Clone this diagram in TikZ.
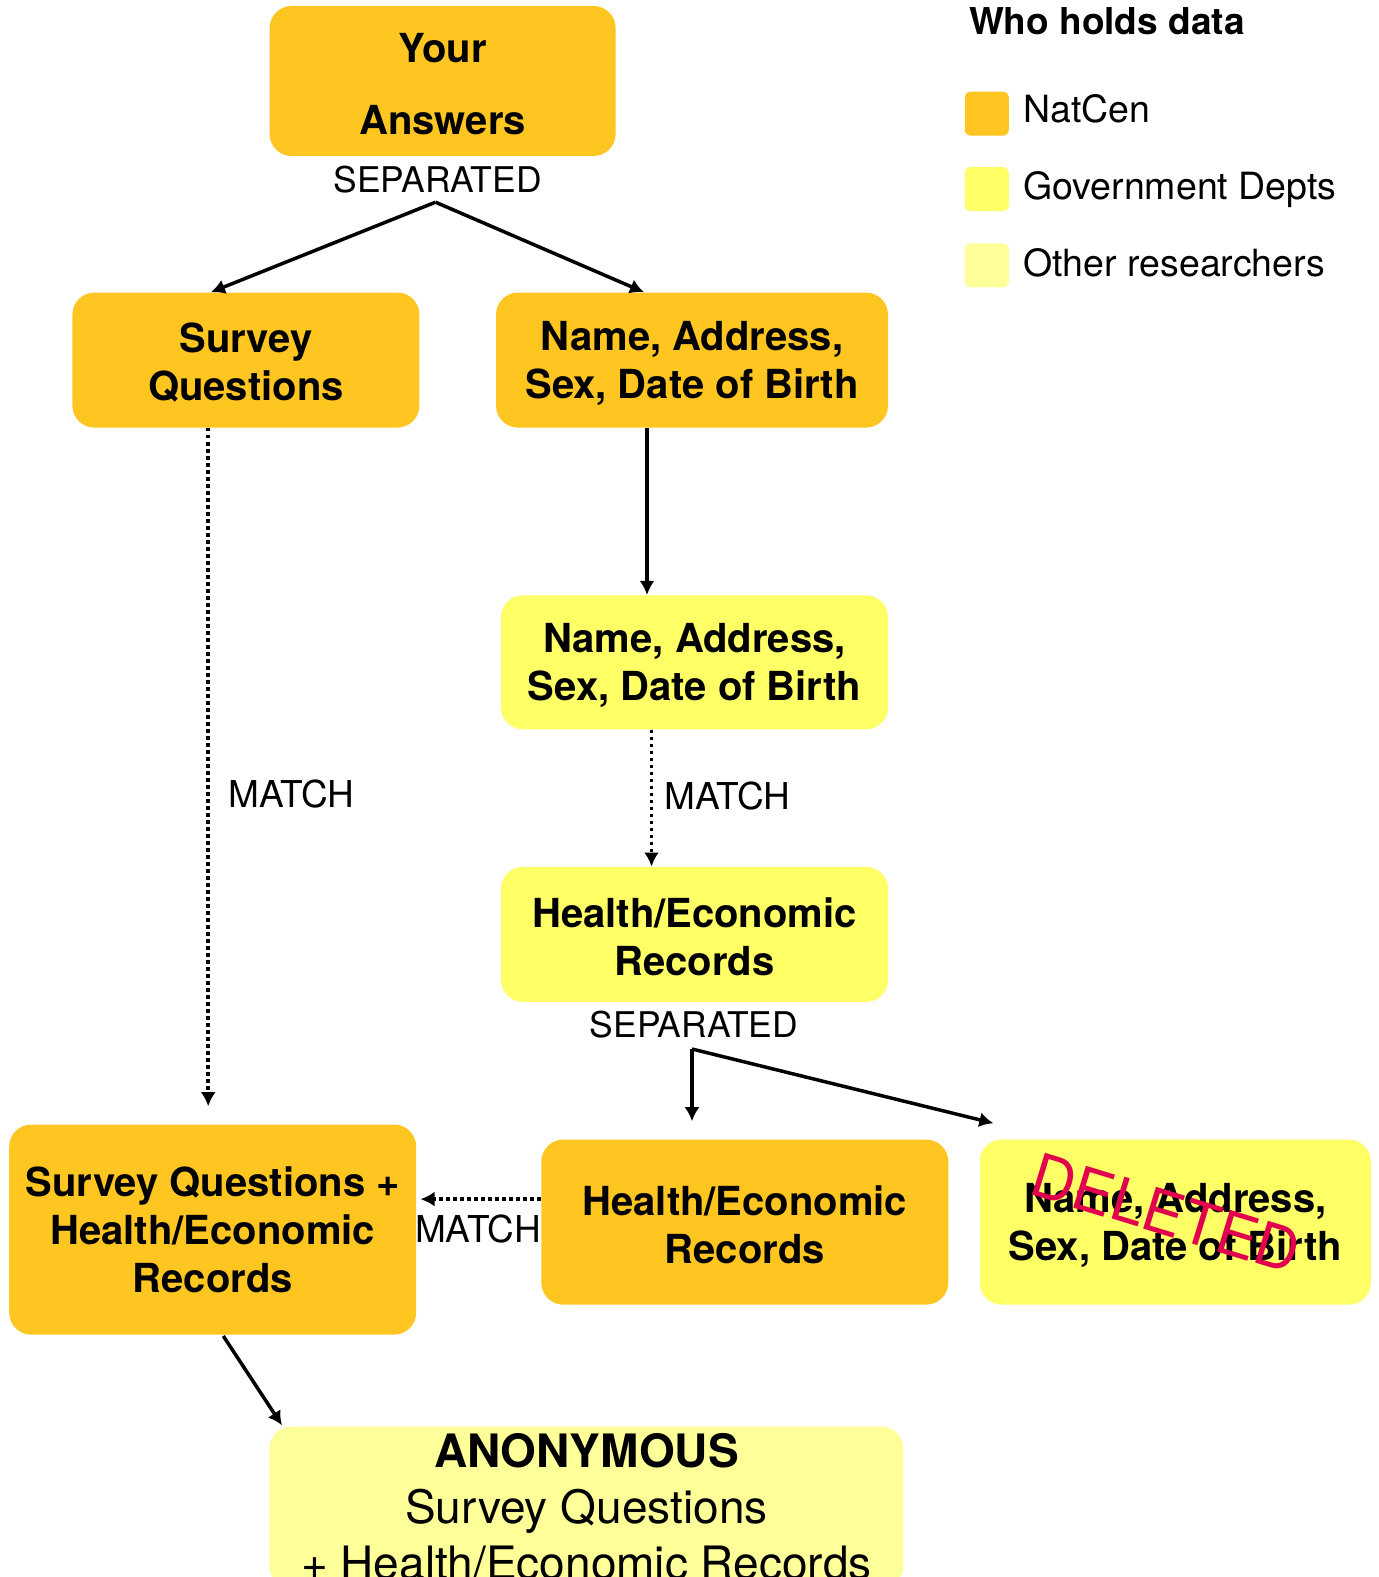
\documentclass[tikz,border=0pt]{standalone}
\usepackage{fontspec}
\setmainfont{TeX Gyre Heros}
\usetikzlibrary{positioning,arrows.meta,calc}
\definecolor{natcenorange}{HTML}{FFC520}
\definecolor{govyellow}{HTML}{FFFF66}
\definecolor{otheryellow}{HTML}{FFFF99}
\definecolor{deletedred}{HTML}{E0004D}
\tikzset{>={Latex[width=7.5pt,length=7pt]}}
\newcommand{\boxstrut}{\rule{0pt}{17.5pt}}

\begin{document}
\begin{tikzpicture}[x=0.5pt,y=-0.5pt,
	holder/.style={rounded corners=11pt, align=center, inner sep=0pt, font=\bfseries\fontsize{20}{24}\selectfont},
	natcen/.style={holder, fill=natcenorange},
	govt/.style={holder, fill=govyellow},
	others/.style={holder, fill=otheryellow},
	tag/.style={font=\fontsize{17.7}{21}\selectfont, inner sep=0pt, anchor=base},
	flow/.style={->, line width=1.75pt},
	matchflow/.style={flow, dash pattern=on 1.75pt off 1.75pt},
	swatch/.style={rounded corners=3pt, minimum size=22pt, inner sep=0pt},
	legtext/.style={font=\fontsize{18.75}{22}\selectfont, anchor=base west, inner sep=0pt}]
	\useasboundingbox (0,0) rectangle (1379,1577);

	% boxes
	\node(ans) [natcen, minimum width=173pt, minimum height=75pt] at (442.6,81)	{\boxstrut Your\\[11.7pt]Answers};
	\node(survey) [natcen, minimum width=173.5pt, minimum height=67.5pt] at (245.9,360.1)	{\boxstrut Survey\\Questions};
	\node(idorange) [natcen, minimum width=196pt, minimum height=67.5pt] at (692,360.1)	{\boxstrut Name, Address,\\Sex, Date of Birth};
	\node(idgov) [govt, minimum width=193.5pt, minimum height=67pt] at (694.5,662.3)	{\boxstrut Name, Address,\\Sex, Date of Birth};
	\node(healthgov) [govt, minimum width=193.5pt, minimum height=67.5pt] at (694.5,934.4)	{\boxstrut Health/Economic\\Records};
	\node(healthor) [natcen, minimum width=203.5pt, minimum height=82.5pt] at (744.8,1222.1)	{\boxstrut Health/Economic\\Records};
	\node(deleted) [govt, minimum width=195.5pt, minimum height=82.5pt] at (1175.3,1222.1)	{\boxstrut Name, Address,\\Sex, Date of Birth};
	\node(combined) [natcen, minimum width=203.5pt, minimum height=105pt] at (212.7,1229.6)	{Survey Questions +\\Health/Economic\\Records};
	\node(anon) [others, anchor=north, minimum width=317pt, inner ysep=3.5pt, font=\fontsize{23}{28}\selectfont] at (586.4,1426.3)
		{\textbf{ANONYMOUS}\\Survey Questions\\+ Health/Economic Records};
	\node(stamp) [text=deletedred, rotate=-17, font=\fontsize{30}{32}\selectfont, inner sep=0pt] at (1166,1213) {DELETED};

	% labels
	\node(sep1) [tag] at (437.5,193)	{SEPARATED};
	\node(sep2) [tag] at (694,1037)		{SEPARATED};
	\node(match1) [tag, anchor=base west, font=\fontsize{18.5}{21}\selectfont] at (228,807)	{MATCH};
	\node(match2) [tag, anchor=base west, font=\fontsize{18.5}{21}\selectfont] at (664,809)	{MATCH};
	\node(match3) [tag, font=\fontsize{18.5}{21}\selectfont] at (478,1242)	{MATCH};

	% connectors
	\coordinate(split1) at (435.5,202.2);
	\coordinate(split2) at (692,1049);
	\coordinate(drop1) at ($(survey.south)+(-37.7,0)$);
	\coordinate(drop2) at ($(idorange.south)+(-45,0)$);
	\coordinate(drop3) at ($(idgov.south)+(-43,0)$);
	\coordinate(drop4) at ($(healthor.west)+(0,-23)$);

	\draw[flow](split1) -- ($(survey.north)+(-35,0)$);
	\draw[flow](split1) -- ($(idorange.north)+(-48,0)$);
	\draw[flow](drop2) -- (drop2 |- idgov.north);
	\draw[matchflow](drop3) -- (drop3 |- healthgov.north);
	\draw[matchflow, shorten >=9pt](drop1) -- (drop1 |- combined.north);
	\draw[flow, shorten >=9pt](split2) -- (split2 |- healthor.north);
	\draw[flow](split2) -- ($(deleted.north west)+(14,-16)$);
	\draw[matchflow, shorten >=2pt](drop4) -- (drop4 -| combined.east);
	\draw[flow]($(combined.south)+(10.6,1)$) -- ($(anon.north west)+(13,-1)$);

	% legend
	\node(legtitle) [legtext, font=\bfseries\fontsize{18.5}{22}\selectfont] at (968.6,35)	{Who holds data};
	\node(keynat) [swatch, fill=natcenorange] at (986.8,113.7) {};
	\node(keygov) [swatch, fill=govyellow] at (986.8,189.1) {};
	\node(keyoth) [swatch, fill=otheryellow] at (986.8,265.5) {};
	\node(labnat) [legtext] at (1023,123)	{NatCen};
	\node(labgov) [legtext] at (1023,200)	{Government Depts};
	\node(laboth) [legtext] at (1023,277)	{Other researchers};
\end{tikzpicture}
\end{document}
